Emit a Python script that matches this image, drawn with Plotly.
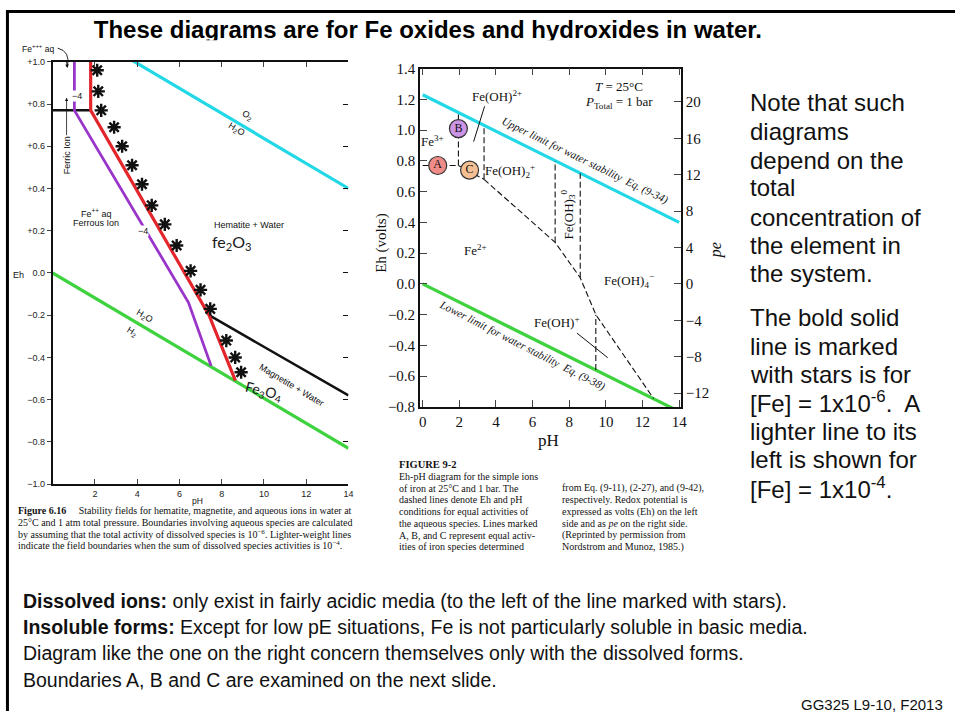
import plotly.graph_objects as go

W, H = 961, 719
SANS = "Liberation Sans, Arial, sans-serif"
SERIF = "Liberation Serif, Times New Roman, serif"
HAND = "Lato, Open Sans, sans-serif"

CYAN = "#22d8e6"
GREEN = "#3ed23e"
RED = "#e3262b"
PURPLE = "#9a35c9"
INK = "#111111"


def px(x):
    return x / W


def py(y):
    return 1 - y / H


# ---------------- water stability limits (both diagrams) ----------------
ph_water = [0, 14]
eh_water_upper = [1.23, 0.40]
eh_water_lower = [0.00, -0.83]

# ---------------- Figure 6.16: hematite / magnetite / aqueous ions ----------------
ph_fe_1e6 = [1.8, 1.8, 7.4, 8.65]
eh_fe_1e6 = [1.0, 0.77, -0.20, -0.51]
ph_fe_1e4 = [1.03, 1.03, 6.43, 7.5]
eh_fe_1e4 = [1.0, 0.77, -0.14, -0.44]
ph_ferric_ferrous = [0, 1.8]
eh_ferric_ferrous = [0.77, 0.77]
ph_hem_mag = [7.4, 14]
eh_hem_mag = [-0.20, -0.58]
ph_stars = [2.11, 2.16, 2.30, 2.91, 3.29, 3.76, 4.23, 4.69, 5.31, 5.87, 6.53, 7.00,
            7.46, 8.22, 8.64, 8.92]
eh_stars = [0.96, 0.86, 0.77, 0.69, 0.60, 0.51, 0.42, 0.32, 0.23, 0.13, 0.01, -0.08,
            -0.17, -0.32, -0.40, -0.47]
left_eh_ticks = [-1.0, -0.8, -0.6, -0.4, -0.2, 0.0, 0.2, 0.4, 0.6, 0.8, 1.0]
left_eh_ticktext = ["\u22121.0", "\u22120.8", "\u22120.6", "\u22120.4", "\u22120.2", "0.0",
                    "+0.2", "+0.4", "+0.6", "+0.8", "+1.0"]
left_ph_ticks = [2, 4, 6, 8, 10, 12, 14]

# ---------------- Figure 9-2: Eh-pH for simple iron ions ----------------
ph_line_a = [0, 1.95]
eh_line_a = [0.77, 0.77]
ph_line_b = [1.95, 1.95]
eh_line_b = [0.77, 1.115]
ph_line_c = [1.95, 3.35]
eh_line_c = [0.77, 0.68]
ph_fe2_boundary = [3.35, 7.23, 8.6, 9.45, 12.6]
eh_fe2_boundary = [0.68, 0.27, 0.04, -0.20, -0.745]
ph_verticals = [3.35, 7.23, 8.6, 9.45]
eh_vertical_low = [0.68, 0.27, 0.04, -0.56]
eh_vertical_high = [1.03, 0.80, 0.72, -0.20]
circle_labels = ["A", "B", "C"]
circle_ph = [0.82, 1.95, 2.56]
circle_eh = [0.77, 1.01, 0.74]
circle_colors = ["#f08c88", "#cc94e4", "#f5bf94"]
right_eh_ticks = [-0.8, -0.6, -0.4, -0.2, 0.0, 0.2, 0.4, 0.6, 0.8, 1.0, 1.2, 1.4]
right_eh_ticktext = ["\u22120.8", "\u22120.6", "\u22120.4", "\u22120.2", "0.0", "0.2", "0.4",
                     "0.6", "0.8", "1.0", "1.2", "1.4"]
right_pe_ticks = [-12, -8, -4, 0, 4, 8, 12, 16, 20]
right_ph_ticks = [0, 2, 4, 6, 8, 10, 12, 14]
PE_PER_VOLT = 1 / 0.05916

# ---------------- slide text ----------------
title_text = "These diagrams are for Fe oxides and hydroxides in water."
note_lines = ["Note that such", "diagrams", "depend on the", "total",
              "concentration of", "the element in", "the system."]
note_y = [97, 126, 156, 184, 214, 243, 272]
bold_lines = ["The bold solid", "line is marked", "with stars is for",
              "[Fe] = 1x10<sup>-6</sup>.\u00a0 A", "lighter line to its",
              "left is shown for", "[Fe] = 1x10<sup>-4</sup>."]
bold_y = [317, 346, 375, 403, 433, 462, 491]
bottom_lines = [
    "<b>Dissolved ions:</b> only exist in fairly acidic media (to the left of the line marked with stars).",
    "<b>Insoluble forms:</b> Except for low pE situations, Fe is not particularly soluble in basic media.",
    "Diagram like the one on the right concern themselves only with the dissolved forms.",
    "Boundaries A, B and C are examined on the next slide.",
]
bottom_y = [606, 633, 660, 687]
caption_left = [
    "<b>Figure 6.16</b>\u00a0\u00a0\u00a0\u00a0 Stability fields for hematite, magnetite, and aqueous ions in water at",
    "25\u00b0C and 1 atm total pressure. Boundaries involving aqueous species are calculated",
    "by assuming that the total activity of dissolved species is 10<sup>\u22126</sup>. Lighter-weight lines",
    "indicate the field boundaries when the sum of dissolved species activities is 10<sup>\u22124</sup>.",
]
caption_left_y = [514, 526, 538, 549]
caption_right_a = [
    "Eh-pH diagram for the simple ions", "of iron at 25\u00b0C and 1 bar. The",
    "dashed lines denote Eh and pH", "conditions for equal activities of",
    "the aqueous species. Lines marked", "A, B, and C represent equal activ-",
    "ities of iron species determined",
]
caption_right_b = [
    "from Eq. (9-11), (2-27), and (9-42),", "respectively. Redox potential is",
    "expressed as volts (Eh) on the left", "side and as <i>pe</i> on the right side.",
    "(Reprinted by permission from", "Nordstrom and Munoz, 1985.)",
]
caption_right_a_y = [479, 491, 503, 515, 527, 539, 551]
caption_right_b_y = [491, 503, 515, 527, 539, 551]

fig = go.Figure()

# ---- left diagram traces ----
L = dict(xaxis="x", yaxis="y", showlegend=False, hoverinfo="skip")
fig.add_trace(go.Scatter(x=ph_water, y=eh_water_upper, mode="lines",
                         line=dict(color=CYAN, width=3.2), **L))
fig.add_trace(go.Scatter(x=ph_water, y=eh_water_lower, mode="lines",
                         line=dict(color=GREEN, width=3.2), **L))
fig.add_trace(go.Scatter(x=ph_ferric_ferrous, y=eh_ferric_ferrous, mode="lines",
                         line=dict(color=INK, width=2.5), **L))
fig.add_trace(go.Scatter(x=ph_hem_mag, y=eh_hem_mag, mode="lines",
                         line=dict(color=INK, width=2.5), **L))
fig.add_trace(go.Scatter(x=ph_fe_1e4, y=eh_fe_1e4, mode="lines",
                         line=dict(color=PURPLE, width=2.8), **L))
fig.add_trace(go.Scatter(x=ph_fe_1e6, y=eh_fe_1e6, mode="lines",
                         line=dict(color=RED, width=3.2), **L))
fig.add_trace(go.Scatter(x=ph_stars, y=eh_stars, mode="markers",
                         marker=dict(symbol="asterisk-open", size=11, color=INK,
                                     line=dict(color=INK, width=2.4)), **L))
# invisible trace carrying the tick-only right edge of the left diagram
fig.add_trace(go.Scatter(x=[0, 14], y=[-1, 1], mode="markers", marker=dict(opacity=0),
                         xaxis="x", yaxis="y5", showlegend=False, hoverinfo="skip"))

# ---- right diagram traces ----
R = dict(xaxis="x2", yaxis="y2", showlegend=False, hoverinfo="skip")
DASH = dict(color=INK, width=1.1, dash="6px,3px")
fig.add_trace(go.Scatter(x=ph_water, y=eh_water_upper, mode="lines",
                         line=dict(color=CYAN, width=3.2), **R))
fig.add_trace(go.Scatter(x=ph_water, y=eh_water_lower, mode="lines",
                         line=dict(color=GREEN, width=3.2), **R))
for xs, ys in [(ph_line_a, eh_line_a), (ph_line_b, eh_line_b), (ph_line_c, eh_line_c),
               (ph_fe2_boundary, eh_fe2_boundary)]:
    fig.add_trace(go.Scatter(x=xs, y=ys, mode="lines", line=DASH, **R))
vx, vy = [], []
for p, lo, hi in zip(ph_verticals, eh_vertical_low, eh_vertical_high):
    vx += [p, p, None]
    vy += [lo, hi, None]
fig.add_trace(go.Scatter(x=vx, y=vy, mode="lines", line=DASH, **R))
# leader lines for the two small fields
fig.add_trace(go.Scatter(x=[3.38, 2.78, None, 8.42, 10.1],
                         y=[1.155, 0.925, None, -0.32, -0.48], mode="lines",
                         line=dict(color=INK, width=1), **R))
fig.add_trace(go.Scatter(x=circle_ph, y=circle_eh, mode="markers+text", text=circle_labels,
                         textposition="middle center",
                         textfont=dict(family=SERIF, size=12, color=INK),
                         marker=dict(size=18, color=circle_colors,
                                     line=dict(color="#333333", width=1.2)), **R))
# invisible trace to carry the pe axis
fig.add_trace(go.Scatter(x=[0, 14], y=[-0.8 * PE_PER_VOLT, 1.4 * PE_PER_VOLT], mode="markers",
                         marker=dict(opacity=0), xaxis="x2", yaxis="y3",
                         showlegend=False, hoverinfo="skip"))

# ---- slide title (lower edge hidden behind the diagrams) ----
fig.add_trace(go.Scatter(x=[430], y=[25], mode="text", text=[title_text],
                         textposition="middle center", cliponaxis=True,
                         textfont=dict(family=SANS, size=24, color="#000000", weight="bold"),
                         xaxis="x3", yaxis="y4", showlegend=False, hoverinfo="skip"))

axis_common = dict(showgrid=False, zeroline=False, showline=True, linecolor=INK)
LEFT_TOP, LEFT_BOTTOM = 55, 487

fig.update_layout(
    width=W, height=H,
    margin=dict(l=0, r=0, t=0, b=0),
    paper_bgcolor="white", plot_bgcolor="rgba(0,0,0,0)",
    xaxis=dict(domain=[px(52), px(350)], range=[0, 14], anchor="y",
               tickvals=left_ph_ticks, ticks="inside", ticklen=5, tickwidth=1,
               mirror="ticks", linewidth=1.5,
               tickfont=dict(family=SANS, size=9, color="#222"), **axis_common),
    yaxis=dict(domain=[py(LEFT_BOTTOM), py(LEFT_TOP)], range=[-1.0, 1.0], anchor="x",
               tickvals=left_eh_ticks, ticktext=left_eh_ticktext, ticks="outside",
               ticklen=4, tickwidth=1, linewidth=1.5,
               tickfont=dict(family=SANS, size=9, color="#222"), **axis_common),
    yaxis5=dict(overlaying="y", side="right", anchor="x", range=[-1.0, 1.0],
                tickvals=left_eh_ticks, ticks="inside", ticklen=5, tickwidth=1,
                tickcolor=INK, showticklabels=False, showline=False,
                showgrid=False, zeroline=False),
    xaxis2=dict(domain=[px(422), px(685)], range=[-0.15, 14.1], anchor="y2",
                tickvals=right_ph_ticks, ticks="inside", ticklen=7, tickwidth=1.2,
                mirror="ticks", linewidth=1.6,
                tickfont=dict(family=SERIF, size=15, color=INK), **axis_common),
    yaxis2=dict(domain=[py(408), py(62)], range=[-0.8, 1.4], anchor="x2",
                tickvals=right_eh_ticks, ticktext=right_eh_ticktext, ticks="inside",
                ticklen=7, tickwidth=1.2, linewidth=1.6,
                tickfont=dict(family=SERIF, size=15, color=INK), **axis_common),
    yaxis3=dict(overlaying="y2", side="right", anchor="x2",
                range=[-0.8 * PE_PER_VOLT, 1.4 * PE_PER_VOLT],
                tickvals=right_pe_ticks,
                ticktext=[str(v).replace("-", "\u2212") for v in right_pe_ticks],
                ticks="inside", ticklen=7, tickwidth=1.2, linewidth=1.6,
                tickfont=dict(family=SERIF, size=15, color=INK), **axis_common),
    xaxis3=dict(domain=[0, 1], range=[0, W], visible=False, fixedrange=True, anchor="y4"),
    yaxis4=dict(domain=[py(33), 1], range=[33, 0], visible=False, fixedrange=True,
                anchor="x3"),
)

ann = []


def add_px(x, y, text, size, family=SANS, color=INK, xanchor="center", **kw):
    ann.append(dict(x=px(x), y=py(y), xref="paper", yref="paper", text=text,
                    showarrow=False, xanchor=xanchor, yanchor="middle",
                    font=dict(size=size, family=family, color=color), **kw))


def add_data(xr, yr, x, y, text, size, family=SANS, color=INK, **kw):
    base = dict(x=x, y=y, xref=xr, yref=yr, text=text, showarrow=False,
                font=dict(size=size, family=family, color=color))
    base.update(kw)
    ann.append(base)


# ---- left diagram labels ----
add_px(37, 41, "Fe<sup>+++</sup> aq", 8.5)
add_px(18, 273, "Eh", 9)
add_px(198, 504, "pH", 8.5)
add_data("x", "y", 1.17, 0.84, "\u22124", 9, bgcolor="white", borderpad=0)
add_data("x", "y", 4.27, 0.20, "\u22124", 9, bgcolor="white", borderpad=0)
add_data("x", "y", 0.66, 0.83, "Ferric Ion", 9, showarrow=True, arrowhead=2,
         arrowsize=0.8, arrowwidth=0.8, arrowcolor=INK, ax=0, ay=58, textangle=-90)
add_data("x", "y", 2.07, 0.285, "Fe<sup>++</sup> aq", 9)
add_data("x", "y", 2.07, 0.235, "Ferrous Ion", 9)
add_data("x", "y", 9.3, 0.225, "Hematite + Water", 9)
add_data("x", "y", 8.5, 0.145, "fe<sub>2</sub>O<sub>3</sub>", 16, family=HAND, color="#1a1a1a")
add_data("x", "y", 9.2, 0.745, "O<sub>2</sub>", 9, textangle=31)
add_data("x", "y", 8.7, 0.68, "H<sub>2</sub>O", 9, textangle=31)
add_data("x", "y", 4.37, -0.205, "H<sub>2</sub>O", 9, textangle=31)
add_data("x", "y", 3.8, -0.28, "H<sub>2</sub>", 9, textangle=31)
add_data("x", "y", 11.3, -0.53, "Magnetite + Water", 9, textangle=31)
add_data("x", "y", 10.0, -0.56, "Fe<sub>3</sub>O<sub>4</sub>", 14, family=HAND,
         color="#1a1a1a", textangle=14)

# ---- right diagram labels ----
RX, RY = "x2", "y2"
add_data(RX, RY, 4.08, 1.22, "Fe(OH)<sup>2+</sup>", 13, family=SERIF)
add_data(RX, RY, 10.74, 1.285, "<i>T</i> = 25\u00b0C", 13, family=SERIF)
add_data(RX, RY, 10.74, 1.18, "<i>P</i><sub>Total</sub> = 1 bar", 13, family=SERIF)
add_data(RX, RY, 0.55, 0.93, "Fe<sup>3+</sup>", 13, family=SERIF)
add_data(RX, RY, 4.78, 0.735, "Fe(OH)<sub>2</sub><sup>+</sup>", 13, family=SERIF)
add_data(RX, RY, 7.92, 0.45, "Fe(OH)<sub>3</sub><sup>0</sup>", 13, family=SERIF, textangle=-90)
add_data(RX, RY, 2.88, 0.22, "Fe<sup>2+</sup>", 13, family=SERIF)
add_data(RX, RY, 11.28, 0.02, "Fe(OH)<sub>4</sub><sup>\u2212</sup>", 13, family=SERIF)
add_data(RX, RY, 7.31, -0.25, "Fe(OH)<sup>+</sup>", 13, family=SERIF)
add_data(RX, RY, 8.85, 0.80, "<i>Upper limit for water stability  Eq. (9-34)</i>", 11,
         family=SERIF, textangle=26)
add_data(RX, RY, 5.43, -0.40, "<i>Lower limit for water stability  Eq. (9-38)</i>", 11,
         family=SERIF, textangle=27)
add_px(383, 240, "Eh (volts)", 15, family=SERIF, textangle=-90)
add_px(721, 248, "<i>pe</i>", 16, family=SERIF, textangle=-90)
add_px(552, 442, "pH", 17, family=SERIF)

# ---- figure captions ----
for t, y in zip(caption_left, caption_left_y):
    add_px(15, y, t, 10, family=SERIF, xanchor="left")
add_px(399, 467, "<b>FIGURE 9-2</b>", 10.5, family=SERIF, xanchor="left")
for t, y in zip(caption_right_a, caption_right_a_y):
    add_px(399, y, t, 10, family=SERIF, xanchor="left")
for t, y in zip(caption_right_b, caption_right_b_y):
    add_px(563, y, t, 10, family=SERIF, xanchor="left")

# ---- slide text ----
for t, y in zip(note_lines, note_y):
    add_px(752, y, t, 24, xanchor="left")
for t, y in zip(bold_lines, bold_y):
    add_px(752, y, t, 24, xanchor="left")
for t, y in zip(bottom_lines, bottom_y):
    add_px(20, y, t, 19.5, xanchor="left")
add_px(951, 712, "GG325 L9-10, F2013", 15, xanchor="right")

# small arrowhead for the Fe+++ pointer
ann.append(dict(x=0.7, y=0.97, xref="x", yref="y", text="", showarrow=True, arrowhead=2,
                arrowsize=0.8, arrowwidth=0.9, arrowcolor=INK, ax=-1, ay=-8))
fig.update_layout(annotations=ann)

fig.update_layout(shapes=[
    # curved pointer from the Fe+++ label
    dict(type="path", xref="paper", yref="paper",
         path=f"M {px(57)},{py(41)} Q {px(70)},{py(44)} {px(67)},{py(60)}",
         line=dict(color=INK, width=0.9)),
    # slide frame
    dict(type="line", xref="paper", yref="paper", x0=px(5), x1=1, y0=py(3.5), y1=py(3.5),
         line=dict(color="#000000", width=3)),
    dict(type="line", xref="paper", yref="paper", x0=px(6.5), x1=px(6.5), y0=py(3), y1=0,
         line=dict(color="#000000", width=3)),
])

fig.write_html("out.html")
